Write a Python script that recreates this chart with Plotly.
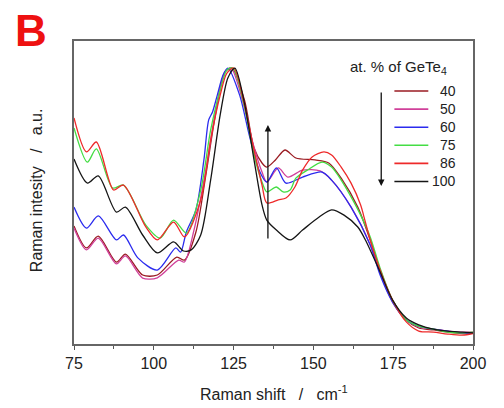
import plotly.graph_objects as go

# ---- data (intensity normalised so the main peak = 100) ----
names = ["40", "50", "60", "75", "86", "100"]
colors = ["#9a1b22", "#d0409a", "#2b2bee", "#44dd44", "#ee2a2a", "#151515"]

tail_x = [174.8, 179.1, 183.0, 187.6, 192.1, 196.7, 200.0]

x40 = [75, 78.9, 82.6, 88.3, 91.1, 96.5, 101.1, 107.2, 109.6, 113.2, 116.3, 119.3, 122.3, 124.5,
       128.4, 131.4, 133.9, 135.4, 138.1, 141.1, 144.5, 150.5, 154.8, 158.7, 163.9, 167.8, 170.9] + tail_x
y40 = [42.8, 34.8, 39.1, 29.7, 32.6, 25.0, 25.0, 31.5, 30.4, 40.6, 61.2, 83.0, 98.6, 100.0,
       88.4, 71.0, 65.6, 64.1, 66.7, 70.3, 67.4, 66.7, 65.6, 60.1, 49.6, 37.7, 26.8,
       15.9, 8.7, 5.8, 5.1, 4.3, 3.8, 4.0]

x50 = [75, 78.9, 82.6, 88.3, 91.1, 96.5, 101.1, 107.8, 109.6, 112.6, 116.3, 119.3, 122.3, 124.2,
       127.8, 130.8, 133.9, 135.4, 139.0, 142.0, 146.6, 152.1, 155.7, 161.8, 167.8, 170.9] + tail_x
y50 = [42.0, 34.1, 38.4, 29.0, 31.9, 23.9, 24.0, 30.4, 29.7, 41.3, 63.0, 84.1, 98.6, 100.0,
       88.4, 73.9, 62.3, 58.7, 63.8, 60.5, 63.0, 62.7, 59.4, 49.6, 35.9, 25.7,
       15.2, 8.7, 6.2, 5.4, 4.7, 4.3, 4.3]

x60 = [75, 78.9, 82.6, 88.3, 90.5, 95.0, 101.1, 106.9, 108.4, 110.2, 113.2, 115.7, 117.2, 118.4,
       119.9, 121.7, 123.2, 126.9, 129.9, 133.0, 135.4, 138.4, 141.4, 146.6, 152.7, 155.7, 161.8,
       167.8, 170.9] + tail_x
y60 = [49.6, 42.0, 46.4, 37.7, 39.5, 31.2, 26.8, 34.8, 33.3, 40.6, 48.6, 66.7, 81.2, 84.1,
       90.2, 97.5, 100.0, 90.2, 75.7, 63.0, 58.7, 63.8, 58.3, 60.5, 62.3, 59.4, 49.6,
       35.9, 25.0, 15.2, 8.7, 6.5, 5.4, 4.7, 4.0, 4.0]

x75 = [75, 79.2, 82.0, 87.1, 90.5, 97.5, 102.0, 106.2, 110.2, 114.7, 117.8, 120.8, 122.9, 124.8,
       128.4, 131.4, 133.9, 135.4, 138.4, 140.5, 142.7, 144.5, 148.1, 152.7, 155.7, 158.7, 161.8,
       164.8, 167.8, 170.9] + tail_x
y75 = [78.3, 65.9, 70.7, 56.5, 57.6, 43.1, 38.4, 44.9, 40.2, 55.8, 77.5, 92.0, 99.3, 100.0,
       85.9, 68.5, 58.7, 55.1, 56.9, 55.1, 55.8, 60.1, 63.0, 65.9, 64.1, 59.4, 53.3,
       46.7, 38.8, 27.5, 15.9, 8.7, 6.5, 5.4, 4.3, 4.0, 4.3]

x86 = [75, 78.9, 82.0, 87.4, 90.5, 97.5, 101.1, 106.2, 109.6, 114.7, 117.8, 120.8, 122.9, 125.1,
       128.4, 131.4, 133.9, 135.4, 139.0, 141.4, 144.2, 146.6, 149.6, 153.3, 155.7, 158.7, 161.8,
       164.8, 165.7, 167.8, 170.9] + tail_x
y86 = [81.9, 69.6, 73.2, 55.8, 57.6, 42.4, 37.7, 44.2, 38.8, 52.2, 73.9, 90.2, 98.2, 100.0,
       86.6, 70.3, 57.6, 51.1, 52.2, 52.9, 56.9, 63.0, 67.8, 69.6, 68.5, 64.1, 58.3,
       50.4, 46.7, 37.7, 26.8, 15.9, 8.0, 4.7, 4.3, 3.6, 3.2, 3.8]

x100 = [75, 79.2, 82.6, 88.3, 91.1, 96.5, 101.1, 106.2, 109.3, 111.7, 114.7, 117.8, 120.8, 123.2,
        125.4, 128.4, 131.4, 133.9, 135.4, 138.4, 142.7, 146.6, 151.8, 155.7, 159.6, 163.9, 166.3,
        170.9] + tail_x
y100 = [67.0, 58.3, 60.9, 47.8, 49.6, 39.5, 33.0, 37.0, 33.7, 34.1, 39.5, 59.4, 83.0, 96.4,
        100.0, 87.3, 66.7, 50.4, 44.9, 41.3, 37.7, 41.3, 46.0, 48.6, 46.7, 42.4, 37.7,
        26.1, 15.9, 9.4, 6.9, 5.4, 4.7, 4.3, 4.0]

series_x = [x40, x50, x60, x75, x86, x100]
series_y = [y40, y50, y60, y75, y86, y100]

x_ticks = [75, 100, 125, 150, 175, 200]

FONT = "Arial, Liberation Sans, Helvetica, sans-serif"

fig = go.Figure()
for name, col, xs, ys in zip(names, colors, series_x, series_y):
    fig.add_trace(go.Scatter(x=xs, y=ys, mode="lines", name=name,
                             line=dict(color=col, width=1.3, shape="spline", smoothing=0.8),
                             showlegend=False))

# hand-made legend (lines + right aligned labels)
leg_top = 0.835
leg_step = 18.1 / 303
for i, (name, col) in enumerate(zip(names, colors)):
    yy = leg_top - i * leg_step
    fig.add_shape(type="line", xref="paper", yref="paper", x0=0.803, x1=0.888, y0=yy, y1=yy,
                  line=dict(color=col, width=1.6))
    fig.add_annotation(xref="paper", yref="paper", x=0.963, y=yy, text=name, showarrow=False,
                       xanchor="right", yanchor="middle", font=dict(size=14, color="#222", family=FONT))

fig.add_annotation(xref="paper", yref="paper", x=0.687, y=0.912, text="at. % of GeTe<sub>4</sub>",
                   showarrow=False, xanchor="left", yanchor="middle",
                   font=dict(size=15, color="#222", family=FONT))

# arrows
fig.add_annotation(xref="paper", yref="paper", x=0.770, y=(344 - 186) / 303, ax=0, ay=-102,
                   showarrow=True, arrowhead=2, arrowsize=1, arrowwidth=1.3, arrowcolor="#111", text=" ")
fig.add_annotation(xref="paper", yref="paper", x=0.486, y=(344 - 125) / 303, ax=0, ay=122,
                   showarrow=True, arrowhead=2, arrowsize=1, arrowwidth=1.3, arrowcolor="#111", text=" ")

# titles
fig.add_annotation(xref="paper", yref="paper", x=0.502, y=-0.163,
                   text="Raman shift \u00a0 / \u00a0 cm<sup>-1</sup>", showarrow=False,
                   xanchor="center", yanchor="middle", font=dict(size=16, color="#222", family=FONT))
fig.add_annotation(xref="paper", yref="paper", x=-0.095, y=0.508,
                   text="Raman intesity \u00a0 / \u00a0 a.u.", showarrow=False, textangle=-90,
                   xanchor="center", yanchor="middle", font=dict(size=16, color="#222", family=FONT))
fig.add_annotation(xref="paper", yref="paper", x=-0.109, y=1.036, text="<b>B</b>", showarrow=False,
                   xanchor="center", yanchor="middle", font=dict(size=44, color="#ee1111", family=FONT))

# the page body has an 8 px margin on every side: keep the figure inside the window
fig.update_layout(
    width=488, height=392,
    margin=dict(l=66, r=10, t=33, b=56),
    paper_bgcolor="white", plot_bgcolor="white",
    font=dict(family=FONT, color="#222"),
    xaxis=dict(range=[75, 200], tickvals=x_ticks, ticktext=[str(v) for v in x_ticks],
               ticks="outside", ticklen=4, tickwidth=1.2, tickcolor="#555",
               ticklabeloverflow="allow",
               minor=dict(ticks="outside", ticklen=3, tickwidth=1, tickcolor="#555", dtick=12.5,
                          tick0=75, showgrid=False),
               showline=True, linecolor="#666", linewidth=1.5, mirror=True,
               showgrid=False, zeroline=False, tickfont=dict(size=16, color="#222")),
    yaxis=dict(range=[0, 109.8], showticklabels=False, ticks="",
               showline=True, linecolor="#666", linewidth=1.5, mirror=True,
               showgrid=False, zeroline=False),
)

fig.write_html("out.html", config={"displayModeBar": False})
